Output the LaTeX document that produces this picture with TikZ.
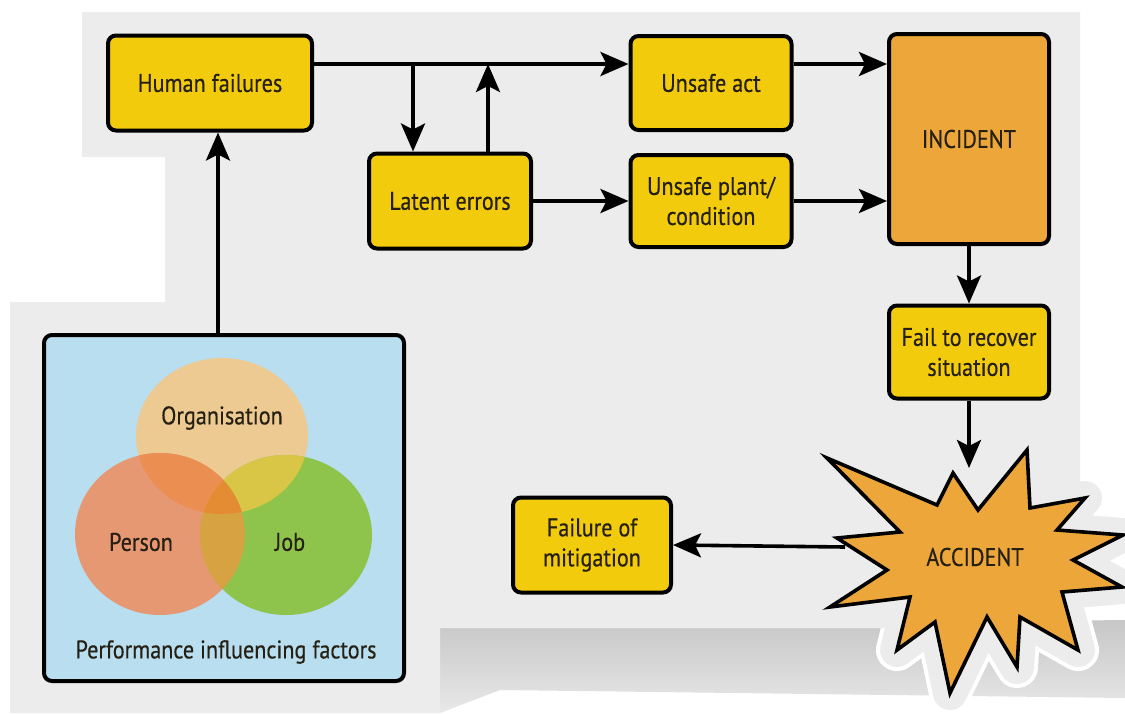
\documentclass[tikz,border=0pt]{standalone}
\usepackage{fontspec}
\setmainfont{PT Sans}[FakeStretch=0.87,FakeBold=0.4]
\usetikzlibrary{arrows.meta,calc}
\definecolor{paper}{RGB}{236,236,237}
\definecolor{boxyellow}{RGB}{242,203,12}
\definecolor{incorange}{RGB}{236,166,58}
\definecolor{txt}{RGB}{38,32,20}
\definecolor{pifblue}{RGB}{184,222,240}
\definecolor{orgc}{RGB}{236,202,146}
\definecolor{perc}{RGB}{230,152,114}
\definecolor{jobc}{RGB}{142,195,76}
\definecolor{orgper}{RGB}{234,142,82}
\definecolor{orgjob}{RGB}{218,198,70}
\definecolor{perjob}{RGB}{214,162,66}
\definecolor{allthree}{RGB}{228,140,52}
\begin{document}
\begin{tikzpicture}[x=1pt,y=-1pt,
  box/.style={draw=black, line width=4pt, rounded corners=8pt, fill=boxyellow,
    text=txt, align=center, inner sep=0pt, font=\fontsize{25.5}{30}\selectfont},
  lbl/.style={text=txt, inner sep=0pt, font=\fontsize{25.5}{30}\selectfont},
  arr/.style={draw=black, line width=3.6pt, -{Stealth[length=28pt,width=24pt,inset=6pt]}}]
\useasboundingbox (0,0) rectangle (1125,713);
\fill[white] (0,0) rectangle (1125,713);
% shadow band
\shade[top color=black!22, bottom color=black!9]
  (440,628) -- (1125,620) -- (1125,698) -- (500,690) -- (440,713) -- cycle;
% halo around the star
\def\starpoly{(827,458) -- (937,505) -- (953,473) -- (978,510) -- (1027,450) -- (1030,508) -- (1085,498) -- (1057,530) -- (1123,535) -- (1073,560) -- (1122,587) -- (1062,592) -- (1078,650) -- (1020,617) -- (1017,667) -- (987,617) -- (950,693) -- (935,622) -- (897,650) -- (910,597) -- (830,607) -- (887,570) -- (837,538) -- (900,532) -- cycle}
\draw[white, line width=42pt, line join=round, fill=white] \starpoly;
\draw[paper, line width=34pt, line join=round, fill=paper] \starpoly;
% paper sheet
\fill[paper] (82,12) -- (1080,12) -- (1080,628) -- (440,628) -- (440,713)
  -- (10,713) -- (10,302) -- (165,302) -- (165,157) -- (82,157) -- cycle;

% boxes
\node[box, minimum width=204pt, minimum height=95pt] (hf) at (210,83) {Human failures};
\node[box, minimum width=162pt, minimum height=95pt] (le) at (450,201) {Latent errors};
\node[box, minimum width=161pt, minimum height=94pt] (ua) at (711,83) {Unsafe act};
\node[box, minimum width=161pt, minimum height=92pt] (up) at (711,201) {Unsafe plant/\\condition};
\node[box, fill=incorange, minimum width=160pt, minimum height=210pt] (inc) at (969,139) {INCIDENT};
\node[box, minimum width=160pt, minimum height=93pt] (fr) at (969,352) {Fail to recover\\situation};
\node[box, minimum width=158pt, minimum height=95pt] (fm) at (592,545) {Failure of\\mitigation};

% performance influencing factors
\node[draw=black, line width=4pt, rounded corners=8pt, fill=pifblue,
  minimum width=360pt, minimum height=346pt] (pif) at (224,508) {};
\begin{scope}
  \fill[orgc] (222,436) ellipse [x radius=86, y radius=78];
  \fill[perc] (160,534) ellipse [x radius=85, y radius=81];
  \fill[jobc] (286,535) ellipse [x radius=86, y radius=80];
  \begin{scope}
    \clip (222,436) ellipse [x radius=86, y radius=78];
    \fill[orgper] (160,534) ellipse [x radius=85, y radius=81];
    \fill[orgjob] (286,535) ellipse [x radius=86, y radius=80];
  \end{scope}
  \begin{scope}
    \clip (160,534) ellipse [x radius=85, y radius=81];
    \fill[perjob] (286,535) ellipse [x radius=86, y radius=80];
    \clip (222,436) ellipse [x radius=86, y radius=78];
    \fill[allthree] (286,535) ellipse [x radius=86, y radius=80];
  \end{scope}
\end{scope}
\node[lbl] (org) at (222,418) {Organisation};
\node[lbl] (per) at (141,542) {Person};
\node[lbl] (job) at (290,542) {Job};
\node[lbl] (piflbl) at (226,652) {Performance influencing factors};

% accident star
\draw[black, line width=3.6pt, fill=incorange, line join=miter, miter limit=20] \starpoly;
\node[lbl] (acc) at (975,557) {ACCIDENT};
\coordinate (accTop) at (969,468);
\coordinate (accL) at (845,547);

% connectors
\coordinate (j1) at (413,64);
\coordinate (j2) at (488,64);
\coordinate (pifup) at (218,335);
\draw[line width=3.6pt] ([yshift=19pt]hf.east) -- (j1);
\draw[arr] (j1) -- ([yshift=19pt]ua.west);
\draw[arr] (j1) -- (j1 |- le.north);
\draw[arr] (j2 |- le.north) -- (j2);
\draw[arr] (le.east) -- (up.west);
\draw[arr] ([yshift=19pt]ua.east) -- ([yshift=19pt]ua.east -| inc.west);
\draw[arr] (up.east) -- (up.east -| inc.west);
\draw[arr] (pifup) -- (pifup |- hf.south);
\draw[arr] (inc.south) -- (fr.north);
\draw[arr] (fr.south) -- (accTop);
\draw[arr] (accL) -- (fm.east);
\end{tikzpicture}
\end{document}
